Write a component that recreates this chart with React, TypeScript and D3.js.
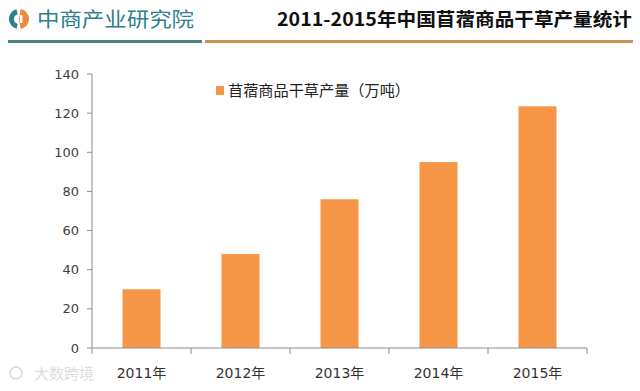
import React from "react";
import * as d3 from "d3";

const categories = ["2011年", "2012年", "2013年", "2014年", "2015年"];
const values = [30, 48, 76, 95, 123.5];
const yTicks = [0, 20, 40, 60, 80, 100, 120, 140];
const title = "2011-2015年中国苜蓿商品干草产量统计";
const brand = "中商产业研究院";
const legendLabel = "苜蓿商品干草产量（万吨）";
const watermark = "大数跨境";

const W = 640;
const H = 391;
const plot = { left: 92, right: 587, top: 74, bottom: 348 };
const ORANGE = "#F79646";
const AXIS = "#8c8c8c";
const FONT = "'DejaVu Sans', 'Noto Sans CJK SC', sans-serif";
const CJK = "'Noto Sans CJK SC', sans-serif";

export default function App() {
  const x = d3
    .scaleBand<string>()
    .domain(categories)
    .range([plot.left, plot.right])
    .paddingInner(0.616)
    .paddingOuter(0.308);
  const y = d3.scaleLinear().domain([0, 140]).range([plot.bottom, plot.top]);
  const step = (plot.right - plot.left) / categories.length;

  const arcTeal = d3.arc()({
    innerRadius: 5,
    outerRadius: 10,
    startAngle: Math.PI * 1.08,
    endAngle: Math.PI * 1.92,
  } as any) as string;
  const arcOrange = d3.arc()({
    innerRadius: 0,
    outerRadius: 10,
    startAngle: Math.PI * 0.05,
    endAngle: Math.PI * 0.95,
  } as any) as string;

  return (
    <svg
      width={W}
      height={H}
      style={{ position: "absolute", left: 0, top: 0, background: "#fff" }}
    >
      <rect x={0} y={0} width={W} height={H} fill="#fff" />
      {/* header */}
      <g transform="translate(19,19)">
        <path d={arcTeal} fill="#2f7f8c" />
        <path d={arcOrange} fill="#ee8a3a" />
        <rect x={1} y={-4} width={2.5} height={8} fill="#fff" />
      </g>
      <text
        x={37}
        y={27}
        fontFamily={CJK}
        fontSize={20}
        fill="#2f7f8c"
        textLength={157}
        lengthAdjust="spacingAndGlyphs"
      >
        {brand}
      </text>
      <text
        x={277}
        y={26}
        fontFamily={CJK}
        fontWeight="bold"
        fontSize={18.5}
        fill="#111"
        textLength={355}
        lengthAdjust="spacingAndGlyphs"
      >
        {title}
      </text>
      <line x1={8} x2={202} y1={41.5} y2={41.5} stroke="#4a8585" strokeWidth={3} />
      <line x1={205} x2={633} y1={41.5} y2={41.5} stroke="#c9915a" strokeWidth={3} />

      {/* bars */}
      {categories.map((c, i) => (
        <rect
          key={c}
          x={x(c)}
          y={y(values[i])}
          width={x.bandwidth()}
          height={y(0) - y(values[i])}
          fill={ORANGE}
        />
      ))}

      {/* y axis */}
      <line x1={plot.left} x2={plot.left} y1={y(140)} y2={y(0)} stroke={AXIS} strokeWidth={1} />
      {yTicks.map((t) => (
        <g key={t}>
          <line x1={plot.left - 5} x2={plot.left} y1={y(t)} y2={y(t)} stroke={AXIS} />
          <text
            x={79}
            y={y(t)}
            dy="0.35em"
            textAnchor="end"
            fontFamily={FONT}
            fontSize={13}
            fill="#404040"
          >
            {t}
          </text>
        </g>
      ))}

      {/* x axis */}
      <line x1={plot.left} x2={plot.right} y1={y(0)} y2={y(0)} stroke={AXIS} strokeWidth={1} />
      {d3.range(categories.length + 1).map((i) => (
        <line
          key={i}
          x1={plot.left + i * step}
          x2={plot.left + i * step}
          y1={y(0)}
          y2={y(0) + 6}
          stroke={AXIS}
        />
      ))}
      {categories.map((c) => (
        <text
          key={c}
          x={(x(c) as number) + x.bandwidth() / 2}
          y={378}
          textAnchor="middle"
          fontFamily={FONT}
          fontSize={14}
          fill="#333"
        >
          {c}
        </text>
      ))}

      {/* legend */}
      <rect x={216} y={86} width={8} height={9} fill={ORANGE} />
      <text
        x={228}
        y={96}
        fontFamily={CJK}
        fontSize={15}
        fill="#222"
        textLength={182}
        lengthAdjust="spacingAndGlyphs"
      >
        {legendLabel}
      </text>

      {/* watermark */}
      <g opacity={0.5}>
        <circle cx={16} cy={373} r={6} fill="none" stroke="#b0b0b0" strokeWidth={1.5} />
        <text x={34} y={379} fontFamily={CJK} fontSize={15} fill="#bdbdbd">
          {watermark}
        </text>
      </g>
    </svg>
  );
}
